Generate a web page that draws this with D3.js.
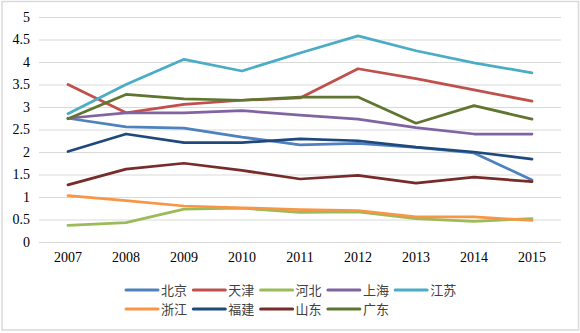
<!DOCTYPE html>
<html>
<head>
<meta charset="utf-8">
<script src="https://d3js.org/d3.v7.min.js"></script>
<style>
  body { margin: 0; background: #fff; }
  svg { display: block; }
</style>
</head>
<body>
<svg id="chart"></svg>
<script>
// values
const years = ["2007", "2008", "2009", "2010", "2011", "2012", "2013", "2014", "2015"]
const yTicks = [0, 0.5, 1, 1.5, 2, 2.5, 3, 3.5, 4, 4.5, 5]
const provinces = ["北京", "天津", "河北", "上海", "江苏", "浙江", "福建", "山东", "广东"]
const colors = ["#4F81BD", "#C0504D", "#9BBB59", "#8064A2", "#4BACC6", "#F79646", "#1F497D", "#772C2A", "#5F7530"]

const beijing   = [2.75, 2.56, 2.53, 2.33, 2.16, 2.19, 2.10, 1.98, 1.38]
const tianjin   = [3.50, 2.87, 3.06, 3.15, 3.20, 3.85, 3.63, 3.38, 3.13]
const hebei     = [0.37, 0.43, 0.73, 0.75, 0.66, 0.67, 0.52, 0.46, 0.52]
const shanghai  = [2.75, 2.87, 2.87, 2.92, 2.82, 2.73, 2.54, 2.40, 2.40]
const jiangsu   = [2.85, 3.50, 4.06, 3.80, 4.20, 4.58, 4.25, 3.98, 3.76]
const zhejiang  = [1.03, 0.92, 0.80, 0.76, 0.72, 0.70, 0.56, 0.56, 0.48]
const fujian    = [2.01, 2.40, 2.21, 2.21, 2.29, 2.25, 2.11, 2.00, 1.84]
const shandong  = [1.27, 1.62, 1.75, 1.59, 1.40, 1.48, 1.31, 1.44, 1.34]
const guangdong = [2.74, 3.28, 3.18, 3.15, 3.22, 3.22, 2.64, 3.03, 2.73]

const seriesValues = [beijing, tianjin, hebei, shanghai, jiangsu, zhejiang, fujian, shandong, guangdong]

const width = 580, height = 333
const margin = { top: 17, right: 19, bottom: 91, left: 39 }
const bodyWidth = width - margin.left - margin.right
const bodyHeight = height - margin.top - margin.bottom
const serif = "'Liberation Serif', 'DejaVu Serif', serif"

const svg = d3.select("#chart").attr("width", width).attr("height", height)

// outer chart border
svg.append("rect")
  .attr("x", 2).attr("y", 1.5)
  .attr("width", 576.5).attr("height", 328.5)
  .attr("fill", "#fff")
  .attr("stroke", "#d9d9d9")
  .attr("stroke-width", 1.5)

const xScale = d3.scaleBand().domain(years).range([0, bodyWidth])
const yScale = d3.scaleLinear().domain([0, 5]).range([bodyHeight, 0])

const body = svg.append("g").attr("transform", `translate(${margin.left},${margin.top})`)

// gridlines + y labels
const yAxis = d3.axisLeft(yScale).tickValues(yTicks).tickSize(-bodyWidth).tickPadding(9)
  .tickFormat(d => d)
const yG = body.append("g").call(yAxis)
  .attr("font-family", serif).attr("font-size", 14)
yG.select(".domain").remove()
yG.selectAll(".tick line").attr("stroke", "#d9d9d9").attr("stroke-width", 1)
yG.selectAll(".tick text").attr("fill", "#000")

// x labels
const xAxis = d3.axisBottom(xScale).tickSize(0).tickPadding(10)
const xG = body.append("g").attr("transform", `translate(0,${bodyHeight})`).call(xAxis)
  .attr("font-family", serif).attr("font-size", 14)
xG.select(".domain").remove()
xG.selectAll(".tick text").attr("fill", "#000")

// lines
const line = d3.line()
  .x((d, i) => xScale(years[i]) + xScale.bandwidth() / 2)
  .y(d => yScale(d))

body.selectAll(".series")
  .data(seriesValues)
  .enter().append("path")
  .attr("class", "series")
  .attr("d", line)
  .attr("fill", "none")
  .attr("stroke", (d, i) => colors[i])
  .attr("stroke-width", 2.75)
  .attr("stroke-linejoin", "round")
  .attr("stroke-linecap", "round")

// legend: two rows, 5 + 4 items
const legendX = 126, legendY = 290, itemStep = 67.3, rowStep = 19
const legend = svg.append("g")
provinces.forEach((name, i) => {
  const row = i < 5 ? 0 : 1
  const col = i < 5 ? i : i - 5
  const g = legend.append("g")
    .attr("transform", `translate(${legendX + col * itemStep},${legendY + row * rowStep})`)
  g.append("line")
    .attr("x1", 0).attr("x2", 32).attr("y1", 0).attr("y2", 0)
    .attr("stroke", colors[i]).attr("stroke-width", 3)
    .attr("stroke-linecap", "round")
  g.append("text")
    .attr("x", 35).attr("y", 0).attr("dy", "0.36em")
    .attr("fill", "#404040")
    .style("font-family", "'Noto Sans CJK SC', sans-serif")
    .style("font-size", "13px")
    .text(name)
})
</script>
</body>
</html>
